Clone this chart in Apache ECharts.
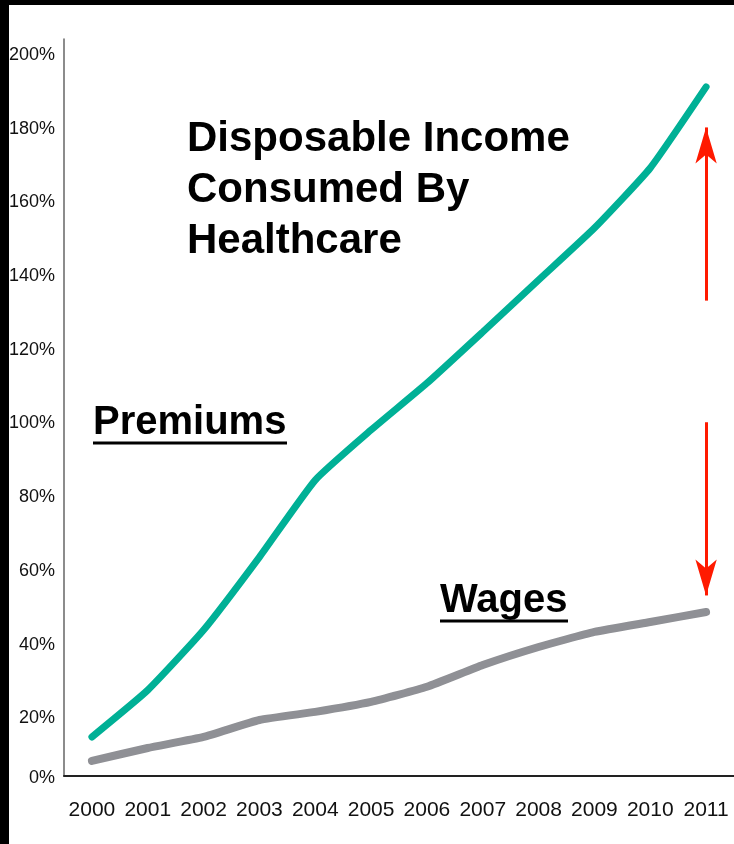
<!DOCTYPE html>
<html>
<head>
<meta charset="utf-8">
<script src="https://cdn.jsdelivr.net/npm/echarts@6/dist/echarts.min.js"></script>
<style>
  html, body { margin: 0; padding: 0; background: #fff; }
  #chart { width: 734px; height: 844px; }
</style>
</head>
<body>
<div id="chart"></div>
<script>
// data
const years = ['2000', '2001', '2002', '2003', '2004', '2005', '2006', '2007', '2008', '2009', '2010', '2011'];
const premiums = [10.6, 23.3, 39.6, 59.4, 80.3, 93.9, 106.6, 120.5, 134.6, 148.7, 165, 187];
const wages = [4.1, 7.6, 10.6, 15.2, 17.4, 20.1, 24.2, 30.1, 35, 39.1, 41.8, 44.5];
const yTicks = { min: 0, max: 200, step: 20 };

// red arrows (value range on the y axis)
const upArrow = [129, 176];
const downArrow = [96, 49];

const axisFont = '"Liberation Sans", Arial, sans-serif';
const boldFont = '"Liberation Sans", Arial, sans-serif';

const chart = echarts.init(document.getElementById('chart'), null, { renderer: 'canvas' });

function arrowLine(from, to) {
  return [
    { coord: ['2011', from], symbol: 'none' },
    { coord: ['2011', to], symbol: 'arrow' },
  ];
}

chart.setOption({
  animation: false,
  backgroundColor: '#fff',
  grid: { left: 64, right: 0, top: 39, bottom: 68, outerBoundsMode: 'none' },
  xAxis: {
    type: 'category',
    data: years,
    boundaryGap: true,
    axisLine: { show: true, lineStyle: { color: '#222', width: 2 } },
    axisTick: { show: false },
    axisLabel: {
      interval: 0,
      color: '#111',
      fontSize: 21,
      fontFamily: axisFont,
      margin: 24,
    },
    splitLine: { show: false },
  },
  yAxis: {
    type: 'value',
    min: yTicks.min,
    max: yTicks.max,
    interval: yTicks.step,
    axisLine: { show: true, lineStyle: { color: '#666', width: 1.5 } },
    axisTick: { show: false },
    splitLine: { show: false },
    axisLabel: {
      color: '#111',
      fontSize: 18,
      fontFamily: axisFont,
      margin: 9,
      // labels sit a little below their ticks in the source, except 0%
      formatter: function (v) {
        return v === 0 ? '{z|0%}' : '{n|' + v + '%}';
      },
      rich: {
        n: { fontSize: 18, fontFamily: axisFont, color: '#111', padding: [32, 0, 0, 0] },
        z: { fontSize: 18, fontFamily: axisFont, color: '#111', padding: [4, 0, 0, 0] },
      },
    },
  },
  series: [
    {
      name: 'Premiums',
      type: 'line',
      data: premiums,
      symbol: 'none',
      smooth: 0.15,
      lineStyle: { color: '#00B096', width: 7, cap: 'round' },
      markLine: {
        silent: true,
        symbolSize: [16, 36],
        label: { show: false },
        lineStyle: { color: '#FF1A00', width: 3, type: 'solid' },
        data: [arrowLine(upArrow[0], upArrow[1]), arrowLine(downArrow[0], downArrow[1])],
      },
    },
    {
      name: 'Wages',
      type: 'line',
      data: wages,
      symbol: 'none',
      smooth: 0.15,
      lineStyle: { color: '#8F9095', width: 8, cap: 'round' },
    },
  ],
  graphic: [
    { type: 'rect', shape: { x: 0, y: 0, width: 734, height: 5 }, style: { fill: '#000' }, z: 100 },
    { type: 'rect', shape: { x: 0, y: 0, width: 9, height: 844 }, style: { fill: '#000' }, z: 100 },
    {
      type: 'text',
      x: 187,
      y: 114,
      style: {
        text: 'Disposable Income\nConsumed By\nHealthcare',
        font: 'bold 42px ' + boldFont,
        lineHeight: 51,
        fill: '#000',
      },
    },
    {
      type: 'text',
      x: 93,
      y: 403,
      style: { text: 'Premiums', font: 'bold 40px ' + boldFont, fill: '#000' },
    },
    { type: 'line', shape: { x1: 93, y1: 443, x2: 287, y2: 443 }, style: { stroke: '#000', lineWidth: 3 } },
    {
      type: 'text',
      x: 440,
      y: 581,
      style: { text: 'Wages', font: 'bold 40px ' + boldFont, fill: '#000' },
    },
    { type: 'line', shape: { x1: 440, y1: 621, x2: 568, y2: 621 }, style: { stroke: '#000', lineWidth: 3 } },
  ],
});
</script>
</body>
</html>
